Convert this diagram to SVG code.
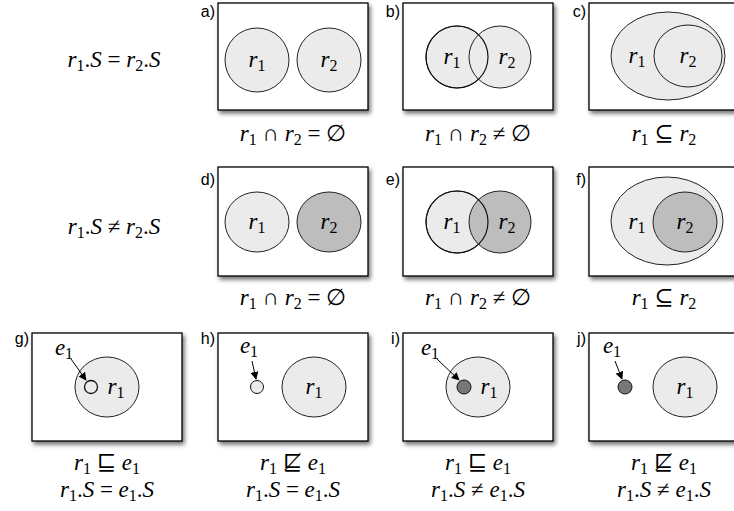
<svg xmlns="http://www.w3.org/2000/svg" width="734" height="511" viewBox="0 0 734 511">
<style>
.box{fill:#fff;stroke:#000;stroke-width:1.3;filter:url(#sh)}
.lt{fill:#ebebeb;stroke:#222;stroke-width:1}
.dk{fill:#bdbdbd;stroke:#222;stroke-width:1}
.no{fill:none;stroke:#111;stroke-width:1.2}
.m{font-family:"Liberation Serif","DejaVu Serif",serif;font-size:23px;fill:#000}
.c{text-anchor:middle}
.i{font-style:italic}
.s{font-size:16px}
.lb{font-family:"Liberation Sans",Arial,sans-serif;font-size:16px;text-anchor:end;fill:#000}
.ar{stroke:#000;stroke-width:1;fill:none;marker-end:url(#ah)}
</style>
<defs>
<filter id="sh" x="-10%" y="-10%" width="125%" height="130%">
<feDropShadow dx="2" dy="3" stdDeviation="2" flood-color="#000" flood-opacity="0.55"/>
</filter>
<marker id="ah" viewBox="0 0 10 10" refX="9" refY="5" markerWidth="8" markerHeight="8" markerUnits="userSpaceOnUse" orient="auto">
<path d="M0,0 L10,5 L0,10 z" fill="#000"/>
</marker>
</defs>

<text class="m c" x="114" y="67"><tspan class="i">r</tspan><tspan class="s" dy="4">1</tspan><tspan dy="-4">.</tspan><tspan class="i">S</tspan> = <tspan class="i">r</tspan><tspan class="s" dy="4">2</tspan><tspan dy="-4">.</tspan><tspan class="i">S</tspan></text>
<text class="m c" x="114" y="234"><tspan class="i">r</tspan><tspan class="s" dy="4">1</tspan><tspan dy="-4">.</tspan><tspan class="i">S</tspan> ≠ <tspan class="i">r</tspan><tspan class="s" dy="4">2</tspan><tspan dy="-4">.</tspan><tspan class="i">S</tspan></text>

<g id="a">
<rect class="box" x="218" y="3" width="150" height="107"/>
<text class="lb" x="215" y="17">a)</text>
<ellipse class="lt" cx="257" cy="60" rx="32" ry="32"/>
<ellipse class="lt" cx="329" cy="60" rx="32" ry="32"/>
<text class="m c" x="257" y="67"><tspan class="i">r</tspan><tspan class="s" dy="4">1</tspan></text>
<text class="m c" x="329" y="67"><tspan class="i">r</tspan><tspan class="s" dy="4">2</tspan></text>
<text class="m c" x="293" y="141"><tspan class="i">r</tspan><tspan class="s" dy="4">1</tspan><tspan dy="-4"> ∩ </tspan><tspan class="i">r</tspan><tspan class="s" dy="4">2</tspan><tspan dy="-4"> = ∅</tspan></text>
</g>

<g id="b">
<rect class="box" x="403" y="3" width="150" height="107"/>
<text class="lb" x="400" y="17">b)</text>
<circle class="lt" cx="457" cy="57" r="31"/>
<circle class="lt" cx="500" cy="57" r="31"/>
<circle class="no" cx="457" cy="57" r="31"/>
<text class="m c" x="452" y="64"><tspan class="i">r</tspan><tspan class="s" dy="4">1</tspan></text>
<text class="m c" x="507" y="64"><tspan class="i">r</tspan><tspan class="s" dy="4">2</tspan></text>
<text class="m c" x="478" y="141"><tspan class="i">r</tspan><tspan class="s" dy="4">1</tspan><tspan dy="-4"> ∩ </tspan><tspan class="i">r</tspan><tspan class="s" dy="4">2</tspan><tspan dy="-4"> ≠ ∅</tspan></text>
</g>

<g id="c">
<rect class="box" x="589" y="3" width="150" height="107"/>
<text class="lb" x="586" y="17">c)</text>
<ellipse class="lt" cx="668" cy="56" rx="57" ry="44"/>
<ellipse class="lt" cx="688" cy="56" rx="34" ry="31"/>
<text class="m c" x="637" y="63"><tspan class="i">r</tspan><tspan class="s" dy="4">1</tspan></text>
<text class="m c" x="688" y="63"><tspan class="i">r</tspan><tspan class="s" dy="4">2</tspan></text>
<text class="m c" x="664" y="141"><tspan class="i">r</tspan><tspan class="s" dy="4">1</tspan><tspan dy="-4"> ⊆ </tspan><tspan class="i">r</tspan><tspan class="s" dy="4">2</tspan></text>
</g>

<g id="d">
<rect class="box" x="218" y="167" width="150" height="109"/>
<text class="lb" x="215" y="185">d)</text>
<ellipse class="lt" cx="257" cy="222" rx="32" ry="30"/>
<ellipse class="dk" cx="329" cy="222" rx="32" ry="30"/>
<text class="m c" x="257" y="229"><tspan class="i">r</tspan><tspan class="s" dy="4">1</tspan></text>
<text class="m c" x="329" y="229"><tspan class="i">r</tspan><tspan class="s" dy="4">2</tspan></text>
<text class="m c" x="293" y="305"><tspan class="i">r</tspan><tspan class="s" dy="4">1</tspan><tspan dy="-4"> ∩ </tspan><tspan class="i">r</tspan><tspan class="s" dy="4">2</tspan><tspan dy="-4"> = ∅</tspan></text>
</g>

<g id="e">
<rect class="box" x="403" y="167" width="150" height="109"/>
<text class="lb" x="400" y="185">e)</text>
<circle class="lt" cx="457" cy="222" r="31"/>
<circle class="dk" cx="500" cy="222" r="31"/>
<circle class="no" cx="457" cy="222" r="31"/>
<text class="m c" x="452" y="229"><tspan class="i">r</tspan><tspan class="s" dy="4">1</tspan></text>
<text class="m c" x="507" y="229"><tspan class="i">r</tspan><tspan class="s" dy="4">2</tspan></text>
<text class="m c" x="478" y="305"><tspan class="i">r</tspan><tspan class="s" dy="4">1</tspan><tspan dy="-4"> ∩ </tspan><tspan class="i">r</tspan><tspan class="s" dy="4">2</tspan><tspan dy="-4"> ≠ ∅</tspan></text>
</g>

<g id="f">
<rect class="box" x="589" y="167" width="150" height="109"/>
<text class="lb" x="586" y="185">f)</text>
<ellipse class="lt" cx="667" cy="221" rx="56" ry="44"/>
<ellipse class="dk" cx="685" cy="222" rx="32" ry="30"/>
<text class="m c" x="637" y="229"><tspan class="i">r</tspan><tspan class="s" dy="4">1</tspan></text>
<text class="m c" x="685" y="229"><tspan class="i">r</tspan><tspan class="s" dy="4">2</tspan></text>
<text class="m c" x="664" y="305"><tspan class="i">r</tspan><tspan class="s" dy="4">1</tspan><tspan dy="-4"> ⊆ </tspan><tspan class="i">r</tspan><tspan class="s" dy="4">2</tspan></text>
</g>

<g id="g">
<rect class="box" x="32" y="333" width="150" height="108"/>
<text class="lb" x="29" y="344">g)</text>
<ellipse class="lt" cx="107" cy="387" rx="32" ry="30"/>
<circle cx="91" cy="387" r="6.5" fill="#ebebeb" stroke="#111" stroke-width="1.3"/>
<text class="m c" x="116" y="394"><tspan class="i">r</tspan><tspan class="s" dy="4">1</tspan></text>
<text class="m c" x="64" y="355"><tspan class="i">e</tspan><tspan class="s" dy="4">1</tspan></text>
<text class="m c" x="107" y="470"><tspan class="i">r</tspan><tspan class="s" dy="4">1</tspan><tspan dy="-4"> ⊑ </tspan><tspan class="i">e</tspan><tspan class="s" dy="4">1</tspan></text>
<text class="m c" x="107" y="497"><tspan class="i">r</tspan><tspan class="s" dy="4">1</tspan><tspan dy="-4">.</tspan><tspan class="i">S</tspan> = <tspan class="i">e</tspan><tspan class="s" dy="4">1</tspan><tspan dy="-4">.</tspan><tspan class="i">S</tspan></text>
</g>

<g id="h">
<rect class="box" x="218" y="333" width="150" height="108"/>
<text class="lb" x="215" y="344">h)</text>
<ellipse class="lt" cx="314" cy="387" rx="32" ry="30"/>
<circle cx="257" cy="387" r="6.5" fill="#ebebeb" stroke="#111" stroke-width="1"/>
<text class="m c" x="314" y="394"><tspan class="i">r</tspan><tspan class="s" dy="4">1</tspan></text>
<text class="m c" x="249" y="353"><tspan class="i">e</tspan><tspan class="s" dy="4">1</tspan></text>
<text class="m c" x="293" y="470"><tspan class="i">r</tspan><tspan class="s" dy="4">1</tspan><tspan dy="-4"> ⋢ </tspan><tspan class="i">e</tspan><tspan class="s" dy="4">1</tspan></text>
<text class="m c" x="293" y="497"><tspan class="i">r</tspan><tspan class="s" dy="4">1</tspan><tspan dy="-4">.</tspan><tspan class="i">S</tspan> = <tspan class="i">e</tspan><tspan class="s" dy="4">1</tspan><tspan dy="-4">.</tspan><tspan class="i">S</tspan></text>
</g>

<g id="i">
<rect class="box" x="403" y="333" width="150" height="108"/>
<text class="lb" x="400" y="344">i)</text>
<ellipse class="lt" cx="478" cy="387" rx="32" ry="30"/>
<circle cx="464" cy="387" r="7" fill="#777" stroke="#111" stroke-width="1"/>
<text class="m c" x="489" y="394"><tspan class="i">r</tspan><tspan class="s" dy="4">1</tspan></text>
<text class="m c" x="430" y="355"><tspan class="i">e</tspan><tspan class="s" dy="4">1</tspan></text>
<text class="m c" x="478" y="470"><tspan class="i">r</tspan><tspan class="s" dy="4">1</tspan><tspan dy="-4"> ⊑ </tspan><tspan class="i">e</tspan><tspan class="s" dy="4">1</tspan></text>
<text class="m c" x="478" y="497"><tspan class="i">r</tspan><tspan class="s" dy="4">1</tspan><tspan dy="-4">.</tspan><tspan class="i">S</tspan> ≠ <tspan class="i">e</tspan><tspan class="s" dy="4">1</tspan><tspan dy="-4">.</tspan><tspan class="i">S</tspan></text>
</g>

<g id="j">
<rect class="box" x="589" y="333" width="150" height="108"/>
<text class="lb" x="586" y="344">j)</text>
<ellipse class="lt" cx="685" cy="387" rx="32" ry="30"/>
<circle cx="625" cy="387" r="7" fill="#777" stroke="#111" stroke-width="1"/>
<text class="m c" x="685" y="394"><tspan class="i">r</tspan><tspan class="s" dy="4">1</tspan></text>
<text class="m c" x="612" y="353"><tspan class="i">e</tspan><tspan class="s" dy="4">1</tspan></text>
<text class="m c" x="664" y="470"><tspan class="i">r</tspan><tspan class="s" dy="4">1</tspan><tspan dy="-4"> ⋢ </tspan><tspan class="i">e</tspan><tspan class="s" dy="4">1</tspan></text>
<text class="m c" x="664" y="497"><tspan class="i">r</tspan><tspan class="s" dy="4">1</tspan><tspan dy="-4">.</tspan><tspan class="i">S</tspan> ≠ <tspan class="i">e</tspan><tspan class="s" dy="4">1</tspan><tspan dy="-4">.</tspan><tspan class="i">S</tspan></text>
</g>

<g id="connectors">
<line class="ar" x1="71" y1="359" x2="86" y2="380"/>
<line class="ar" x1="252" y1="361" x2="256" y2="379"/>
<line class="ar" x1="437" y1="359" x2="459" y2="380"/>
<line class="ar" x1="615" y1="361" x2="622" y2="379"/>
</g>
</svg>
